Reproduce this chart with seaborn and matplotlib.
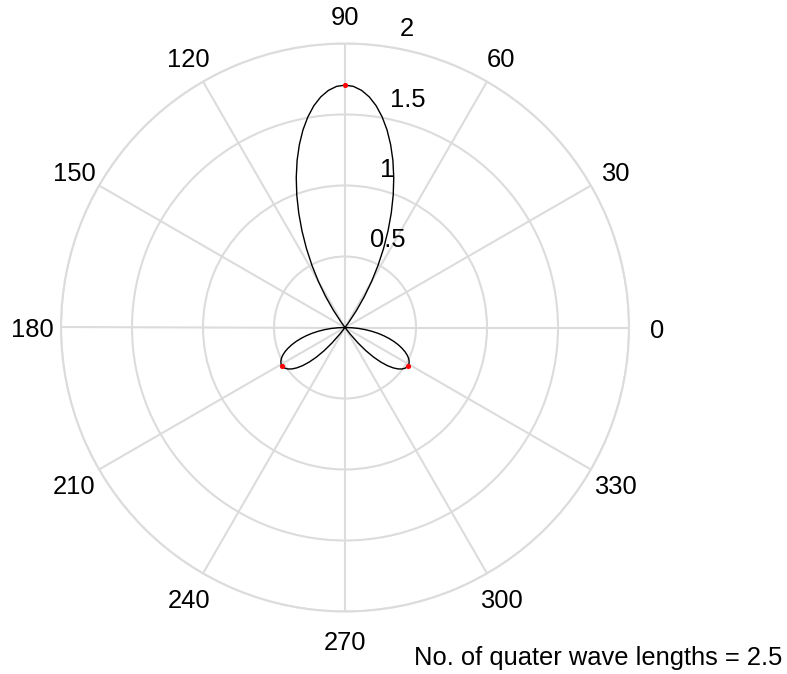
import numpy as np
import pandas as pd
import matplotlib
matplotlib.use("Agg")
from matplotlib import pyplot as plt
import matplotlib.transforms as mtransforms
import seaborn as sns


# radiation pattern (signed field vs. angle in degrees)
angle_deg = [
    0, 2, 4, 6, 8, 10, 12, 14, 16, 18, 20, 22, 24, 26, 28, 30, 32, 34, 36,
    38, 40, 42, 44, 46, 48, 50, 52, 53.13, 54, 56, 58, 60, 62, 64, 66, 68,
    70, 72, 74, 76, 78, 80, 82, 84, 86, 88, 90, 92, 94, 96, 98, 100, 102,
    104, 106, 108, 110, 112, 114, 116, 118, 120, 122, 124, 126, 126.87, 128,
    130, 132, 134, 136, 138, 140, 142, 144, 146, 148, 150, 152, 154, 156,
    158, 160, 162, 164, 166, 168, 170, 172, 174, 176, 178, 180,
]
field = [
    0.0, -0.048, -0.097, -0.144, -0.190, -0.236, -0.279, -0.320, -0.359,
    -0.395, -0.427, -0.456, -0.480, -0.499, -0.512, -0.519, -0.519, -0.512,
    -0.497, -0.474, -0.442, -0.401, -0.350, -0.290, -0.220, -0.141, -0.053,
    0.0, 0.043, 0.147, 0.258, 0.375, 0.496, 0.620, 0.745, 0.870, 0.993,
    1.111, 1.224, 1.328, 1.423, 1.506, 1.577, 1.633, 1.674, 1.699, 1.707,
    1.699, 1.674, 1.633, 1.577, 1.506, 1.423, 1.328, 1.224, 1.111, 0.993,
    0.870, 0.745, 0.620, 0.496, 0.375, 0.258, 0.147, 0.043, 0.0, -0.053,
    -0.141, -0.220, -0.290, -0.350, -0.401, -0.442, -0.474, -0.497, -0.512,
    -0.519, -0.519, -0.512, -0.499, -0.480, -0.456, -0.427, -0.395, -0.359,
    -0.320, -0.279, -0.236, -0.190, -0.144, -0.097, -0.048, 0.0,
]

# lobe maxima (red markers)
peak_deg = [90, 31, 149]
peak_field = [1.707, -0.520, -0.520]

theta_ticks = [0, 30, 60, 90, 120, 150, 180, 210, 240, 270, 300, 330]
r_ticks = [0.5, 1, 1.5, 2]
r_tick_labels = ["0.5", "1", "1.5", "2"]
caption = "No. of quater wave lengths = 2.5"

GRID = "#dcdcdc"
FS = 18.4


def to_polar(deg, val):
    # negative field is drawn on the opposite side, as matlab's polar() does
    deg = np.asarray(deg, dtype=float)
    val = np.asarray(val, dtype=float)
    theta = np.deg2rad(np.where(val < 0, deg + 180, deg))
    return theta, np.abs(val)


sns.set_theme(style="white")
plt.rcParams["font.family"] = ["Liberation Sans", "DejaVu Sans"]
plt.rcParams["text.color"] = "black"

fig = plt.figure(figsize=(7.87, 6.74), dpi=100)
ax = fig.add_axes([61 / 787, 62.5 / 674, 568 / 787, 568 / 674], projection="polar")

# split the pattern into lobes at its zeros so each lobe is drawn on its own
field_arr = np.array(field)
zeros = np.flatnonzero(field_arr == 0)
lobes = []
for lobe, (a, b) in enumerate(zip(zeros[:-1], zeros[1:])):
    deg = np.array(angle_deg[a:b + 1], dtype=float)
    val = field_arr[a:b + 1]
    if val[1] < 0:
        deg = deg + 180
    lobes.append(pd.DataFrame({"theta": np.deg2rad(deg), "r": np.abs(val), "lobe": lobe}))
df = pd.concat(lobes, ignore_index=True)

sns.lineplot(
    data=df, x="theta", y="r", units="lobe", estimator=None, sort=False,
    color="black", linewidth=1.0, ax=ax,
)

pk_theta, pk_r = to_polar(peak_deg, peak_field)
sns.scatterplot(x=pk_theta, y=pk_r, color="red", s=14, linewidth=0, zorder=3, ax=ax)

ax.set_ylim(0, 2)
ax.set_xticks(np.deg2rad(theta_ticks))
ax.set_xticklabels([])
ax.set_yticks(r_ticks)
ax.set_yticklabels([])
ax.set_xlabel("")
ax.set_ylabel("")
ax.grid(True, color=GRID, linewidth=1.5)
ax.spines["polar"].set_color(GRID)
ax.spines["polar"].set_linewidth(1.5)

# angle labels sit just outside the outer ring
theta_trans = mtransforms.offset_copy(ax.transData, fig=fig, x=0, y=-3, units="dots")
for t in theta_ticks:
    ax.text(np.deg2rad(t), 2.2, str(t), transform=theta_trans,
            ha="center", va="center", fontsize=FS)

r_trans = mtransforms.offset_copy(ax.transData, fig=fig, x=15, y=5, units="dots")
for r, lab in zip(r_ticks, r_tick_labels):
    ax.text(np.deg2rad(82), r, lab, transform=r_trans, ha="left", va="bottom", fontsize=FS)

fig.text(414 / 787, 1 - 658 / 674, caption, ha="left", va="center", fontsize=FS)

fig.savefig("out.png", dpi=100)
